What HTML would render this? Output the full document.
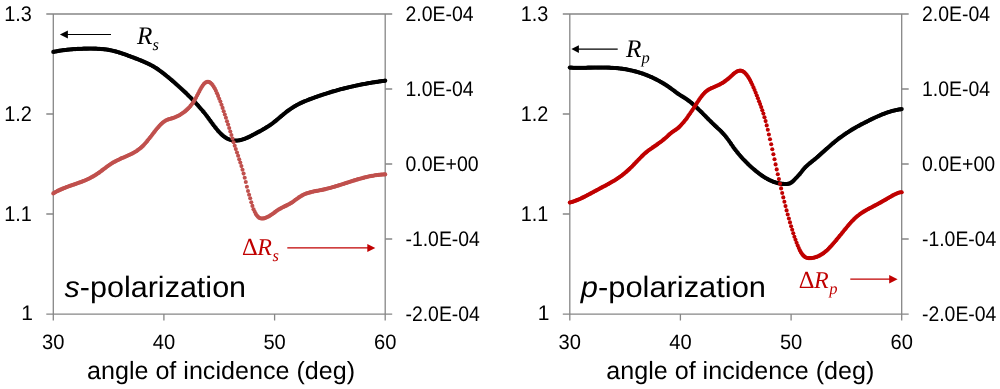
<!DOCTYPE html>
<html><head><meta charset="utf-8"><style>
html,body{margin:0;padding:0;background:#fff;}
body{width:1000px;height:389px;overflow:hidden;}
svg{display:block;will-change:transform;}
text{font-family:"Liberation Sans",sans-serif;text-rendering:geometricPrecision;}
.sf{font-family:"Liberation Serif",serif;}
</style></head><body>
<svg width="1000" height="389" viewBox="0 0 1000 389">
<g stroke="#868686" stroke-width="1.3" fill="none">
<path d="M46.3 14.0H392.2"/>
<path d="M46.3 314.1H392.2"/>
<path d="M53.3 14.0V320.6"/>
<path d="M385.2 14.0V320.6"/>
<path d="M46.3 114.0H53.3M46.3 214.0H53.3M385.2 89.0H392.2M385.2 164.0H392.2M385.2 239.0H392.2M163.9 314.1V320.6M274.6 314.1V320.6"/>
</g>
<g stroke="#868686" stroke-width="1.3" fill="none">
<path d="M562.8 14.0H908.7"/>
<path d="M562.8 314.1H908.7"/>
<path d="M569.8 14.0V320.6"/>
<path d="M901.7 14.0V320.6"/>
<path d="M562.8 114.0H569.8M562.8 214.0H569.8M901.7 89.0H908.7M901.7 164.0H908.7M901.7 239.0H908.7M680.4 314.1V320.6M791.1 314.1V320.6"/>
</g>
<g fill="#000"><circle cx="53.3" cy="51.9" r="2.1"/><circle cx="54.4" cy="51.7" r="2.1"/><circle cx="55.5" cy="51.5" r="2.1"/><circle cx="56.6" cy="51.3" r="2.1"/><circle cx="57.7" cy="51.1" r="2.1"/><circle cx="58.8" cy="50.9" r="2.1"/><circle cx="59.9" cy="50.7" r="2.1"/><circle cx="61.0" cy="50.5" r="2.1"/><circle cx="62.2" cy="50.4" r="2.1"/><circle cx="63.3" cy="50.2" r="2.1"/><circle cx="64.4" cy="50.1" r="2.1"/><circle cx="65.5" cy="50.0" r="2.1"/><circle cx="66.6" cy="49.8" r="2.1"/><circle cx="67.7" cy="49.7" r="2.1"/><circle cx="68.8" cy="49.6" r="2.1"/><circle cx="69.9" cy="49.5" r="2.1"/><circle cx="71.0" cy="49.4" r="2.1"/><circle cx="72.1" cy="49.3" r="2.1"/><circle cx="73.2" cy="49.2" r="2.1"/><circle cx="74.3" cy="49.1" r="2.1"/><circle cx="75.4" cy="49.1" r="2.1"/><circle cx="76.5" cy="49.0" r="2.1"/><circle cx="77.6" cy="48.9" r="2.1"/><circle cx="78.7" cy="48.9" r="2.1"/><circle cx="79.9" cy="48.8" r="2.1"/><circle cx="81.0" cy="48.8" r="2.1"/><circle cx="82.1" cy="48.8" r="2.1"/><circle cx="83.2" cy="48.7" r="2.1"/><circle cx="84.3" cy="48.7" r="2.1"/><circle cx="85.4" cy="48.7" r="2.1"/><circle cx="86.5" cy="48.7" r="2.1"/><circle cx="87.6" cy="48.7" r="2.1"/><circle cx="88.7" cy="48.6" r="2.1"/><circle cx="89.8" cy="48.6" r="2.1"/><circle cx="90.9" cy="48.6" r="2.1"/><circle cx="92.0" cy="48.6" r="2.1"/><circle cx="93.1" cy="48.7" r="2.1"/><circle cx="94.2" cy="48.7" r="2.1"/><circle cx="95.3" cy="48.7" r="2.1"/><circle cx="96.4" cy="48.7" r="2.1"/><circle cx="97.6" cy="48.8" r="2.1"/><circle cx="98.7" cy="48.8" r="2.1"/><circle cx="99.8" cy="48.9" r="2.1"/><circle cx="100.9" cy="49.0" r="2.1"/><circle cx="102.0" cy="49.1" r="2.1"/><circle cx="103.1" cy="49.2" r="2.1"/><circle cx="104.2" cy="49.3" r="2.1"/><circle cx="105.3" cy="49.4" r="2.1"/><circle cx="106.4" cy="49.5" r="2.1"/><circle cx="107.5" cy="49.7" r="2.1"/><circle cx="108.6" cy="49.9" r="2.1"/><circle cx="109.7" cy="50.1" r="2.1"/><circle cx="110.8" cy="50.3" r="2.1"/><circle cx="111.9" cy="50.5" r="2.1"/><circle cx="113.0" cy="50.8" r="2.1"/><circle cx="114.1" cy="51.1" r="2.1"/><circle cx="115.3" cy="51.4" r="2.1"/><circle cx="116.4" cy="51.7" r="2.1"/><circle cx="117.5" cy="52.0" r="2.1"/><circle cx="118.6" cy="52.3" r="2.1"/><circle cx="119.7" cy="52.7" r="2.1"/><circle cx="120.8" cy="53.0" r="2.1"/><circle cx="121.9" cy="53.4" r="2.1"/><circle cx="123.0" cy="53.8" r="2.1"/><circle cx="124.1" cy="54.1" r="2.1"/><circle cx="125.2" cy="54.5" r="2.1"/><circle cx="126.3" cy="54.9" r="2.1"/><circle cx="127.4" cy="55.3" r="2.1"/><circle cx="128.5" cy="55.8" r="2.1"/><circle cx="129.6" cy="56.2" r="2.1"/><circle cx="130.7" cy="56.6" r="2.1"/><circle cx="131.8" cy="57.0" r="2.1"/><circle cx="133.0" cy="57.4" r="2.1"/><circle cx="134.1" cy="57.8" r="2.1"/><circle cx="135.2" cy="58.3" r="2.1"/><circle cx="136.3" cy="58.7" r="2.1"/><circle cx="137.4" cy="59.1" r="2.1"/><circle cx="138.5" cy="59.5" r="2.1"/><circle cx="139.6" cy="60.0" r="2.1"/><circle cx="140.7" cy="60.4" r="2.1"/><circle cx="141.8" cy="60.9" r="2.1"/><circle cx="142.9" cy="61.3" r="2.1"/><circle cx="144.0" cy="61.8" r="2.1"/><circle cx="145.1" cy="62.3" r="2.1"/><circle cx="146.2" cy="62.8" r="2.1"/><circle cx="147.3" cy="63.3" r="2.1"/><circle cx="148.4" cy="63.8" r="2.1"/><circle cx="149.6" cy="64.4" r="2.1"/><circle cx="150.7" cy="65.0" r="2.1"/><circle cx="151.8" cy="65.6" r="2.1"/><circle cx="152.9" cy="66.2" r="2.1"/><circle cx="154.0" cy="66.8" r="2.1"/><circle cx="155.1" cy="67.5" r="2.1"/><circle cx="156.2" cy="68.2" r="2.1"/><circle cx="157.3" cy="68.9" r="2.1"/><circle cx="158.4" cy="69.7" r="2.1"/><circle cx="159.5" cy="70.5" r="2.1"/><circle cx="160.6" cy="71.3" r="2.1"/><circle cx="161.7" cy="72.1" r="2.1"/><circle cx="162.8" cy="72.9" r="2.1"/><circle cx="163.9" cy="73.8" r="2.1"/><circle cx="165.0" cy="74.7" r="2.1"/><circle cx="166.1" cy="75.6" r="2.1"/><circle cx="167.3" cy="76.5" r="2.1"/><circle cx="168.4" cy="77.4" r="2.1"/><circle cx="169.5" cy="78.3" r="2.1"/><circle cx="170.6" cy="79.3" r="2.1"/><circle cx="171.7" cy="80.2" r="2.1"/><circle cx="172.8" cy="81.2" r="2.1"/><circle cx="173.9" cy="82.1" r="2.1"/><circle cx="175.0" cy="83.1" r="2.1"/><circle cx="176.1" cy="84.1" r="2.1"/><circle cx="177.2" cy="85.0" r="2.1"/><circle cx="178.3" cy="86.0" r="2.1"/><circle cx="179.4" cy="87.0" r="2.1"/><circle cx="180.5" cy="88.0" r="2.1"/><circle cx="181.6" cy="89.1" r="2.1"/><circle cx="182.7" cy="90.1" r="2.1"/><circle cx="183.8" cy="91.1" r="2.1"/><circle cx="185.0" cy="92.2" r="2.1"/><circle cx="186.1" cy="93.2" r="2.1"/><circle cx="187.2" cy="94.3" r="2.1"/><circle cx="188.3" cy="95.4" r="2.1"/><circle cx="189.4" cy="96.5" r="2.1"/><circle cx="190.5" cy="97.6" r="2.1"/><circle cx="191.6" cy="98.7" r="2.1"/><circle cx="192.7" cy="99.8" r="2.1"/><circle cx="193.8" cy="101.0" r="2.1"/><circle cx="194.9" cy="102.1" r="2.1"/><circle cx="196.0" cy="103.3" r="2.1"/><circle cx="197.1" cy="104.5" r="2.1"/><circle cx="198.2" cy="105.7" r="2.1"/><circle cx="199.3" cy="107.0" r="2.1"/><circle cx="200.4" cy="108.3" r="2.1"/><circle cx="201.5" cy="109.5" r="2.1"/><circle cx="202.7" cy="110.9" r="2.1"/><circle cx="203.8" cy="112.2" r="2.1"/><circle cx="204.9" cy="113.6" r="2.1"/><circle cx="206.0" cy="115.0" r="2.1"/><circle cx="207.1" cy="116.4" r="2.1"/><circle cx="208.2" cy="117.9" r="2.1"/><circle cx="209.3" cy="119.4" r="2.1"/><circle cx="210.4" cy="120.9" r="2.1"/><circle cx="211.5" cy="122.4" r="2.1"/><circle cx="212.6" cy="123.9" r="2.1"/><circle cx="213.7" cy="125.4" r="2.1"/><circle cx="214.8" cy="126.8" r="2.1"/><circle cx="215.9" cy="128.2" r="2.1"/><circle cx="217.0" cy="129.6" r="2.1"/><circle cx="218.1" cy="130.9" r="2.1"/><circle cx="219.2" cy="132.1" r="2.1"/><circle cx="220.4" cy="133.3" r="2.1"/><circle cx="221.5" cy="134.4" r="2.1"/><circle cx="222.6" cy="135.4" r="2.1"/><circle cx="223.7" cy="136.3" r="2.1"/><circle cx="224.8" cy="137.1" r="2.1"/><circle cx="225.9" cy="137.8" r="2.1"/><circle cx="227.0" cy="138.5" r="2.1"/><circle cx="228.1" cy="139.0" r="2.1"/><circle cx="229.2" cy="139.5" r="2.1"/><circle cx="230.3" cy="139.8" r="2.1"/><circle cx="231.4" cy="140.1" r="2.1"/><circle cx="232.5" cy="140.4" r="2.1"/><circle cx="233.6" cy="140.5" r="2.1"/><circle cx="234.7" cy="140.6" r="2.1"/><circle cx="235.8" cy="140.6" r="2.1"/><circle cx="237.0" cy="140.6" r="2.1"/><circle cx="238.1" cy="140.5" r="2.1"/><circle cx="239.2" cy="140.3" r="2.1"/><circle cx="240.3" cy="140.1" r="2.1"/><circle cx="241.4" cy="139.8" r="2.1"/><circle cx="242.5" cy="139.5" r="2.1"/><circle cx="243.6" cy="139.2" r="2.1"/><circle cx="244.7" cy="138.8" r="2.1"/><circle cx="245.8" cy="138.3" r="2.1"/><circle cx="246.9" cy="137.9" r="2.1"/><circle cx="248.0" cy="137.4" r="2.1"/><circle cx="249.1" cy="136.9" r="2.1"/><circle cx="250.2" cy="136.3" r="2.1"/><circle cx="251.3" cy="135.8" r="2.1"/><circle cx="252.4" cy="135.2" r="2.1"/><circle cx="253.5" cy="134.6" r="2.1"/><circle cx="254.7" cy="134.0" r="2.1"/><circle cx="255.8" cy="133.4" r="2.1"/><circle cx="256.9" cy="132.8" r="2.1"/><circle cx="258.0" cy="132.2" r="2.1"/><circle cx="259.1" cy="131.7" r="2.1"/><circle cx="260.2" cy="131.1" r="2.1"/><circle cx="261.3" cy="130.5" r="2.1"/><circle cx="262.4" cy="129.8" r="2.1"/><circle cx="263.5" cy="129.2" r="2.1"/><circle cx="264.6" cy="128.6" r="2.1"/><circle cx="265.7" cy="127.9" r="2.1"/><circle cx="266.8" cy="127.2" r="2.1"/><circle cx="267.9" cy="126.5" r="2.1"/><circle cx="269.0" cy="125.8" r="2.1"/><circle cx="270.1" cy="125.1" r="2.1"/><circle cx="271.2" cy="124.3" r="2.1"/><circle cx="272.4" cy="123.5" r="2.1"/><circle cx="273.5" cy="122.6" r="2.1"/><circle cx="274.6" cy="121.7" r="2.1"/><circle cx="275.7" cy="120.9" r="2.1"/><circle cx="276.8" cy="119.9" r="2.1"/><circle cx="277.9" cy="119.0" r="2.1"/><circle cx="279.0" cy="118.1" r="2.1"/><circle cx="280.1" cy="117.2" r="2.1"/><circle cx="281.2" cy="116.2" r="2.1"/><circle cx="282.3" cy="115.3" r="2.1"/><circle cx="283.4" cy="114.4" r="2.1"/><circle cx="284.5" cy="113.5" r="2.1"/><circle cx="285.6" cy="112.6" r="2.1"/><circle cx="286.7" cy="111.7" r="2.1"/><circle cx="287.8" cy="110.9" r="2.1"/><circle cx="288.9" cy="110.1" r="2.1"/><circle cx="290.1" cy="109.3" r="2.1"/><circle cx="291.2" cy="108.5" r="2.1"/><circle cx="292.3" cy="107.8" r="2.1"/><circle cx="293.4" cy="107.1" r="2.1"/><circle cx="294.5" cy="106.4" r="2.1"/><circle cx="295.6" cy="105.8" r="2.1"/><circle cx="296.7" cy="105.1" r="2.1"/><circle cx="297.8" cy="104.6" r="2.1"/><circle cx="298.9" cy="104.0" r="2.1"/><circle cx="300.0" cy="103.4" r="2.1"/><circle cx="301.1" cy="102.9" r="2.1"/><circle cx="302.2" cy="102.4" r="2.1"/><circle cx="303.3" cy="101.9" r="2.1"/><circle cx="304.4" cy="101.4" r="2.1"/><circle cx="305.5" cy="101.0" r="2.1"/><circle cx="306.7" cy="100.5" r="2.1"/><circle cx="307.8" cy="100.1" r="2.1"/><circle cx="308.9" cy="99.7" r="2.1"/><circle cx="310.0" cy="99.2" r="2.1"/><circle cx="311.1" cy="98.8" r="2.1"/><circle cx="312.2" cy="98.4" r="2.1"/><circle cx="313.3" cy="98.0" r="2.1"/><circle cx="314.4" cy="97.6" r="2.1"/><circle cx="315.5" cy="97.2" r="2.1"/><circle cx="316.6" cy="96.8" r="2.1"/><circle cx="317.7" cy="96.4" r="2.1"/><circle cx="318.8" cy="96.0" r="2.1"/><circle cx="319.9" cy="95.6" r="2.1"/><circle cx="321.0" cy="95.3" r="2.1"/><circle cx="322.1" cy="94.9" r="2.1"/><circle cx="323.2" cy="94.5" r="2.1"/><circle cx="324.4" cy="94.2" r="2.1"/><circle cx="325.5" cy="93.8" r="2.1"/><circle cx="326.6" cy="93.5" r="2.1"/><circle cx="327.7" cy="93.1" r="2.1"/><circle cx="328.8" cy="92.8" r="2.1"/><circle cx="329.9" cy="92.4" r="2.1"/><circle cx="331.0" cy="92.1" r="2.1"/><circle cx="332.1" cy="91.7" r="2.1"/><circle cx="333.2" cy="91.4" r="2.1"/><circle cx="334.3" cy="91.1" r="2.1"/><circle cx="335.4" cy="90.8" r="2.1"/><circle cx="336.5" cy="90.5" r="2.1"/><circle cx="337.6" cy="90.2" r="2.1"/><circle cx="338.7" cy="89.8" r="2.1"/><circle cx="339.8" cy="89.5" r="2.1"/><circle cx="340.9" cy="89.2" r="2.1"/><circle cx="342.1" cy="89.0" r="2.1"/><circle cx="343.2" cy="88.7" r="2.1"/><circle cx="344.3" cy="88.4" r="2.1"/><circle cx="345.4" cy="88.1" r="2.1"/><circle cx="346.5" cy="87.8" r="2.1"/><circle cx="347.6" cy="87.6" r="2.1"/><circle cx="348.7" cy="87.3" r="2.1"/><circle cx="349.8" cy="87.0" r="2.1"/><circle cx="350.9" cy="86.8" r="2.1"/><circle cx="352.0" cy="86.5" r="2.1"/><circle cx="353.1" cy="86.3" r="2.1"/><circle cx="354.2" cy="86.0" r="2.1"/><circle cx="355.3" cy="85.8" r="2.1"/><circle cx="356.4" cy="85.5" r="2.1"/><circle cx="357.5" cy="85.3" r="2.1"/><circle cx="358.6" cy="85.1" r="2.1"/><circle cx="359.8" cy="84.8" r="2.1"/><circle cx="360.9" cy="84.6" r="2.1"/><circle cx="362.0" cy="84.4" r="2.1"/><circle cx="363.1" cy="84.2" r="2.1"/><circle cx="364.2" cy="84.0" r="2.1"/><circle cx="365.3" cy="83.8" r="2.1"/><circle cx="366.4" cy="83.6" r="2.1"/><circle cx="367.5" cy="83.4" r="2.1"/><circle cx="368.6" cy="83.2" r="2.1"/><circle cx="369.7" cy="83.0" r="2.1"/><circle cx="370.8" cy="82.8" r="2.1"/><circle cx="371.9" cy="82.6" r="2.1"/><circle cx="373.0" cy="82.4" r="2.1"/><circle cx="374.1" cy="82.3" r="2.1"/><circle cx="375.2" cy="82.1" r="2.1"/><circle cx="376.3" cy="81.9" r="2.1"/><circle cx="377.5" cy="81.8" r="2.1"/><circle cx="378.6" cy="81.6" r="2.1"/><circle cx="379.7" cy="81.4" r="2.1"/><circle cx="380.8" cy="81.3" r="2.1"/><circle cx="381.9" cy="81.1" r="2.1"/><circle cx="383.0" cy="81.0" r="2.1"/><circle cx="384.1" cy="80.9" r="2.1"/><circle cx="385.2" cy="80.7" r="2.1"/></g>
<g fill="#C0504D"><circle cx="53.3" cy="193.4" r="2.05"/><circle cx="54.4" cy="192.7" r="2.05"/><circle cx="55.5" cy="192.1" r="2.05"/><circle cx="56.6" cy="191.5" r="2.05"/><circle cx="57.7" cy="190.9" r="2.05"/><circle cx="58.8" cy="190.4" r="2.05"/><circle cx="59.9" cy="189.9" r="2.05"/><circle cx="61.0" cy="189.4" r="2.05"/><circle cx="62.2" cy="188.9" r="2.05"/><circle cx="63.3" cy="188.4" r="2.05"/><circle cx="64.4" cy="188.0" r="2.05"/><circle cx="65.5" cy="187.6" r="2.05"/><circle cx="66.6" cy="187.1" r="2.05"/><circle cx="67.7" cy="186.7" r="2.05"/><circle cx="68.8" cy="186.3" r="2.05"/><circle cx="69.9" cy="185.9" r="2.05"/><circle cx="71.0" cy="185.5" r="2.05"/><circle cx="72.1" cy="185.1" r="2.05"/><circle cx="73.2" cy="184.8" r="2.05"/><circle cx="74.3" cy="184.4" r="2.05"/><circle cx="75.4" cy="184.0" r="2.05"/><circle cx="76.5" cy="183.6" r="2.05"/><circle cx="77.6" cy="183.2" r="2.05"/><circle cx="78.7" cy="182.8" r="2.05"/><circle cx="79.9" cy="182.4" r="2.05"/><circle cx="81.0" cy="182.0" r="2.05"/><circle cx="82.1" cy="181.6" r="2.05"/><circle cx="83.2" cy="181.1" r="2.05"/><circle cx="84.3" cy="180.7" r="2.05"/><circle cx="85.4" cy="180.2" r="2.05"/><circle cx="86.5" cy="179.7" r="2.05"/><circle cx="87.6" cy="179.2" r="2.05"/><circle cx="88.7" cy="178.7" r="2.05"/><circle cx="89.8" cy="178.2" r="2.05"/><circle cx="90.9" cy="177.6" r="2.05"/><circle cx="92.0" cy="177.0" r="2.05"/><circle cx="93.1" cy="176.4" r="2.05"/><circle cx="94.2" cy="175.7" r="2.05"/><circle cx="95.3" cy="175.1" r="2.05"/><circle cx="96.4" cy="174.4" r="2.05"/><circle cx="97.6" cy="173.6" r="2.05"/><circle cx="98.7" cy="172.9" r="2.05"/><circle cx="99.8" cy="172.1" r="2.05"/><circle cx="100.9" cy="171.3" r="2.05"/><circle cx="102.0" cy="170.4" r="2.05"/><circle cx="103.1" cy="169.6" r="2.05"/><circle cx="104.2" cy="168.8" r="2.05"/><circle cx="105.3" cy="168.0" r="2.05"/><circle cx="106.4" cy="167.1" r="2.05"/><circle cx="107.5" cy="166.3" r="2.05"/><circle cx="108.6" cy="165.5" r="2.05"/><circle cx="109.7" cy="164.8" r="2.05"/><circle cx="110.8" cy="164.0" r="2.05"/><circle cx="111.9" cy="163.3" r="2.05"/><circle cx="113.0" cy="162.6" r="2.05"/><circle cx="114.1" cy="162.0" r="2.05"/><circle cx="115.3" cy="161.4" r="2.05"/><circle cx="116.4" cy="160.8" r="2.05"/><circle cx="117.5" cy="160.2" r="2.05"/><circle cx="118.6" cy="159.7" r="2.05"/><circle cx="119.7" cy="159.2" r="2.05"/><circle cx="120.8" cy="158.6" r="2.05"/><circle cx="121.9" cy="158.1" r="2.05"/><circle cx="123.0" cy="157.7" r="2.05"/><circle cx="124.1" cy="157.2" r="2.05"/><circle cx="125.2" cy="156.7" r="2.05"/><circle cx="126.3" cy="156.2" r="2.05"/><circle cx="127.4" cy="155.7" r="2.05"/><circle cx="128.5" cy="155.2" r="2.05"/><circle cx="129.6" cy="154.7" r="2.05"/><circle cx="130.7" cy="154.2" r="2.05"/><circle cx="131.8" cy="153.7" r="2.05"/><circle cx="133.0" cy="153.1" r="2.05"/><circle cx="134.1" cy="152.5" r="2.05"/><circle cx="135.2" cy="151.8" r="2.05"/><circle cx="136.3" cy="151.2" r="2.05"/><circle cx="137.4" cy="150.4" r="2.05"/><circle cx="138.5" cy="149.6" r="2.05"/><circle cx="139.6" cy="148.8" r="2.05"/><circle cx="140.7" cy="147.9" r="2.05"/><circle cx="141.8" cy="146.9" r="2.05"/><circle cx="142.9" cy="145.9" r="2.05"/><circle cx="144.0" cy="144.7" r="2.05"/><circle cx="145.1" cy="143.5" r="2.05"/><circle cx="146.2" cy="142.2" r="2.05"/><circle cx="147.3" cy="140.9" r="2.05"/><circle cx="148.4" cy="139.5" r="2.05"/><circle cx="149.6" cy="138.1" r="2.05"/><circle cx="150.7" cy="136.7" r="2.05"/><circle cx="151.8" cy="135.2" r="2.05"/><circle cx="152.9" cy="133.8" r="2.05"/><circle cx="154.0" cy="132.4" r="2.05"/><circle cx="155.1" cy="131.0" r="2.05"/><circle cx="156.2" cy="129.6" r="2.05"/><circle cx="157.3" cy="128.3" r="2.05"/><circle cx="158.4" cy="127.0" r="2.05"/><circle cx="159.5" cy="125.8" r="2.05"/><circle cx="160.6" cy="124.6" r="2.05"/><circle cx="161.7" cy="123.6" r="2.05"/><circle cx="162.8" cy="122.6" r="2.05"/><circle cx="163.9" cy="121.7" r="2.05"/><circle cx="165.0" cy="121.0" r="2.05"/><circle cx="166.1" cy="120.3" r="2.05"/><circle cx="167.3" cy="119.8" r="2.05"/><circle cx="168.4" cy="119.4" r="2.05"/><circle cx="169.5" cy="119.0" r="2.05"/><circle cx="170.6" cy="118.7" r="2.05"/><circle cx="171.7" cy="118.4" r="2.05"/><circle cx="172.8" cy="118.1" r="2.05"/><circle cx="173.9" cy="117.7" r="2.05"/><circle cx="175.0" cy="117.3" r="2.05"/><circle cx="176.1" cy="116.8" r="2.05"/><circle cx="177.2" cy="116.3" r="2.05"/><circle cx="178.3" cy="115.8" r="2.05"/><circle cx="179.4" cy="115.2" r="2.05"/><circle cx="180.5" cy="114.5" r="2.05"/><circle cx="181.6" cy="113.8" r="2.05"/><circle cx="182.7" cy="113.0" r="2.05"/><circle cx="183.8" cy="112.2" r="2.05"/><circle cx="185.0" cy="111.4" r="2.05"/><circle cx="186.1" cy="110.4" r="2.05"/><circle cx="187.2" cy="109.4" r="2.05"/><circle cx="188.3" cy="108.4" r="2.05"/><circle cx="189.4" cy="107.2" r="2.05"/><circle cx="190.5" cy="105.9" r="2.05"/><circle cx="191.6" cy="104.6" r="2.05"/><circle cx="192.7" cy="103.1" r="2.05"/><circle cx="193.8" cy="101.4" r="2.05"/><circle cx="194.9" cy="99.6" r="2.05"/><circle cx="196.0" cy="97.7" r="2.05"/><circle cx="197.1" cy="95.6" r="2.05"/><circle cx="198.2" cy="93.5" r="2.05"/><circle cx="199.3" cy="91.4" r="2.05"/><circle cx="200.4" cy="89.3" r="2.05"/><circle cx="201.5" cy="87.3" r="2.05"/><circle cx="202.7" cy="85.6" r="2.05"/><circle cx="203.8" cy="84.1" r="2.05"/><circle cx="204.9" cy="83.0" r="2.05"/><circle cx="206.0" cy="82.2" r="2.05"/><circle cx="207.1" cy="81.8" r="2.05"/><circle cx="208.2" cy="81.7" r="2.05"/><circle cx="209.3" cy="82.1" r="2.05"/><circle cx="210.4" cy="82.7" r="2.05"/><circle cx="211.5" cy="83.7" r="2.05"/><circle cx="212.6" cy="85.1" r="2.05"/><circle cx="213.7" cy="86.7" r="2.05"/><circle cx="214.8" cy="88.6" r="2.05"/><circle cx="215.9" cy="90.8" r="2.05"/><circle cx="217.0" cy="93.2" r="2.05"/><circle cx="218.1" cy="95.9" r="2.05"/><circle cx="219.2" cy="98.7" r="2.05"/><circle cx="220.4" cy="101.6" r="2.05"/><circle cx="221.5" cy="104.7" r="2.05"/><circle cx="222.6" cy="107.9" r="2.05"/><circle cx="223.7" cy="111.2" r="2.05"/><circle cx="224.8" cy="114.5" r="2.05"/><circle cx="225.9" cy="117.8" r="2.05"/><circle cx="227.0" cy="121.2" r="2.05"/><circle cx="228.1" cy="124.5" r="2.05"/><circle cx="229.2" cy="128.0" r="2.05"/><circle cx="230.3" cy="131.5" r="2.05"/><circle cx="231.4" cy="135.0" r="2.05"/><circle cx="232.5" cy="138.6" r="2.05"/><circle cx="233.6" cy="142.2" r="2.05"/><circle cx="234.7" cy="145.7" r="2.05"/><circle cx="235.8" cy="149.1" r="2.05"/><circle cx="237.0" cy="152.5" r="2.05"/><circle cx="238.1" cy="155.8" r="2.05"/><circle cx="239.2" cy="159.2" r="2.05"/><circle cx="240.3" cy="162.6" r="2.05"/><circle cx="241.4" cy="166.1" r="2.05"/><circle cx="242.5" cy="169.8" r="2.05"/><circle cx="243.6" cy="173.6" r="2.05"/><circle cx="244.7" cy="177.7" r="2.05"/><circle cx="245.8" cy="182.0" r="2.05"/><circle cx="246.9" cy="186.7" r="2.05"/><circle cx="248.0" cy="191.0" r="2.05"/><circle cx="249.1" cy="194.8" r="2.05"/><circle cx="250.2" cy="198.3" r="2.05"/><circle cx="251.3" cy="202.2" r="2.05"/><circle cx="252.4" cy="205.9" r="2.05"/><circle cx="253.5" cy="209.2" r="2.05"/><circle cx="254.7" cy="211.8" r="2.05"/><circle cx="255.8" cy="213.9" r="2.05"/><circle cx="256.9" cy="215.6" r="2.05"/><circle cx="258.0" cy="216.8" r="2.05"/><circle cx="259.1" cy="217.7" r="2.05"/><circle cx="260.2" cy="218.2" r="2.05"/><circle cx="261.3" cy="218.5" r="2.05"/><circle cx="262.4" cy="218.5" r="2.05"/><circle cx="263.5" cy="218.4" r="2.05"/><circle cx="264.6" cy="218.2" r="2.05"/><circle cx="265.7" cy="217.8" r="2.05"/><circle cx="266.8" cy="217.3" r="2.05"/><circle cx="267.9" cy="216.8" r="2.05"/><circle cx="269.0" cy="216.2" r="2.05"/><circle cx="270.1" cy="215.5" r="2.05"/><circle cx="271.2" cy="214.7" r="2.05"/><circle cx="272.4" cy="214.0" r="2.05"/><circle cx="273.5" cy="213.2" r="2.05"/><circle cx="274.6" cy="212.4" r="2.05"/><circle cx="275.7" cy="211.6" r="2.05"/><circle cx="276.8" cy="210.8" r="2.05"/><circle cx="277.9" cy="210.0" r="2.05"/><circle cx="279.0" cy="209.3" r="2.05"/><circle cx="280.1" cy="208.7" r="2.05"/><circle cx="281.2" cy="208.1" r="2.05"/><circle cx="282.3" cy="207.5" r="2.05"/><circle cx="283.4" cy="207.0" r="2.05"/><circle cx="284.5" cy="206.4" r="2.05"/><circle cx="285.6" cy="205.9" r="2.05"/><circle cx="286.7" cy="205.4" r="2.05"/><circle cx="287.8" cy="204.8" r="2.05"/><circle cx="288.9" cy="204.2" r="2.05"/><circle cx="290.1" cy="203.6" r="2.05"/><circle cx="291.2" cy="202.9" r="2.05"/><circle cx="292.3" cy="202.2" r="2.05"/><circle cx="293.4" cy="201.5" r="2.05"/><circle cx="294.5" cy="200.6" r="2.05"/><circle cx="295.6" cy="199.8" r="2.05"/><circle cx="296.7" cy="199.0" r="2.05"/><circle cx="297.8" cy="198.2" r="2.05"/><circle cx="298.9" cy="197.4" r="2.05"/><circle cx="300.0" cy="196.7" r="2.05"/><circle cx="301.1" cy="196.0" r="2.05"/><circle cx="302.2" cy="195.4" r="2.05"/><circle cx="303.3" cy="194.8" r="2.05"/><circle cx="304.4" cy="194.3" r="2.05"/><circle cx="305.5" cy="193.8" r="2.05"/><circle cx="306.7" cy="193.4" r="2.05"/><circle cx="307.8" cy="193.0" r="2.05"/><circle cx="308.9" cy="192.7" r="2.05"/><circle cx="310.0" cy="192.4" r="2.05"/><circle cx="311.1" cy="192.1" r="2.05"/><circle cx="312.2" cy="191.8" r="2.05"/><circle cx="313.3" cy="191.6" r="2.05"/><circle cx="314.4" cy="191.3" r="2.05"/><circle cx="315.5" cy="191.1" r="2.05"/><circle cx="316.6" cy="190.9" r="2.05"/><circle cx="317.7" cy="190.7" r="2.05"/><circle cx="318.8" cy="190.5" r="2.05"/><circle cx="319.9" cy="190.3" r="2.05"/><circle cx="321.0" cy="190.1" r="2.05"/><circle cx="322.1" cy="189.9" r="2.05"/><circle cx="323.2" cy="189.6" r="2.05"/><circle cx="324.4" cy="189.4" r="2.05"/><circle cx="325.5" cy="189.1" r="2.05"/><circle cx="326.6" cy="188.8" r="2.05"/><circle cx="327.7" cy="188.5" r="2.05"/><circle cx="328.8" cy="188.3" r="2.05"/><circle cx="329.9" cy="188.0" r="2.05"/><circle cx="331.0" cy="187.7" r="2.05"/><circle cx="332.1" cy="187.3" r="2.05"/><circle cx="333.2" cy="187.0" r="2.05"/><circle cx="334.3" cy="186.7" r="2.05"/><circle cx="335.4" cy="186.4" r="2.05"/><circle cx="336.5" cy="186.0" r="2.05"/><circle cx="337.6" cy="185.7" r="2.05"/><circle cx="338.7" cy="185.4" r="2.05"/><circle cx="339.8" cy="185.0" r="2.05"/><circle cx="340.9" cy="184.7" r="2.05"/><circle cx="342.1" cy="184.3" r="2.05"/><circle cx="343.2" cy="184.0" r="2.05"/><circle cx="344.3" cy="183.6" r="2.05"/><circle cx="345.4" cy="183.2" r="2.05"/><circle cx="346.5" cy="182.9" r="2.05"/><circle cx="347.6" cy="182.5" r="2.05"/><circle cx="348.7" cy="182.2" r="2.05"/><circle cx="349.8" cy="181.8" r="2.05"/><circle cx="350.9" cy="181.5" r="2.05"/><circle cx="352.0" cy="181.1" r="2.05"/><circle cx="353.1" cy="180.8" r="2.05"/><circle cx="354.2" cy="180.4" r="2.05"/><circle cx="355.3" cy="180.1" r="2.05"/><circle cx="356.4" cy="179.8" r="2.05"/><circle cx="357.5" cy="179.4" r="2.05"/><circle cx="358.6" cy="179.1" r="2.05"/><circle cx="359.8" cy="178.8" r="2.05"/><circle cx="360.9" cy="178.5" r="2.05"/><circle cx="362.0" cy="178.2" r="2.05"/><circle cx="363.1" cy="177.9" r="2.05"/><circle cx="364.2" cy="177.6" r="2.05"/><circle cx="365.3" cy="177.3" r="2.05"/><circle cx="366.4" cy="177.1" r="2.05"/><circle cx="367.5" cy="176.8" r="2.05"/><circle cx="368.6" cy="176.5" r="2.05"/><circle cx="369.7" cy="176.3" r="2.05"/><circle cx="370.8" cy="176.1" r="2.05"/><circle cx="371.9" cy="175.9" r="2.05"/><circle cx="373.0" cy="175.7" r="2.05"/><circle cx="374.1" cy="175.5" r="2.05"/><circle cx="375.2" cy="175.3" r="2.05"/><circle cx="376.3" cy="175.1" r="2.05"/><circle cx="377.5" cy="175.0" r="2.05"/><circle cx="378.6" cy="174.9" r="2.05"/><circle cx="379.7" cy="174.7" r="2.05"/><circle cx="380.8" cy="174.6" r="2.05"/><circle cx="381.9" cy="174.6" r="2.05"/><circle cx="383.0" cy="174.5" r="2.05"/><circle cx="384.1" cy="174.4" r="2.05"/><circle cx="385.2" cy="174.4" r="2.05"/></g>
<g fill="#000"><circle cx="569.8" cy="67.6" r="2.1"/><circle cx="570.9" cy="67.7" r="2.1"/><circle cx="572.0" cy="67.7" r="2.1"/><circle cx="573.1" cy="67.8" r="2.1"/><circle cx="574.2" cy="67.8" r="2.1"/><circle cx="575.3" cy="67.8" r="2.1"/><circle cx="576.4" cy="67.8" r="2.1"/><circle cx="577.5" cy="67.8" r="2.1"/><circle cx="578.7" cy="67.8" r="2.1"/><circle cx="579.8" cy="67.8" r="2.1"/><circle cx="580.9" cy="67.8" r="2.1"/><circle cx="582.0" cy="67.8" r="2.1"/><circle cx="583.1" cy="67.8" r="2.1"/><circle cx="584.2" cy="67.8" r="2.1"/><circle cx="585.3" cy="67.8" r="2.1"/><circle cx="586.4" cy="67.8" r="2.1"/><circle cx="587.5" cy="67.7" r="2.1"/><circle cx="588.6" cy="67.7" r="2.1"/><circle cx="589.7" cy="67.7" r="2.1"/><circle cx="590.8" cy="67.7" r="2.1"/><circle cx="591.9" cy="67.7" r="2.1"/><circle cx="593.0" cy="67.6" r="2.1"/><circle cx="594.1" cy="67.6" r="2.1"/><circle cx="595.2" cy="67.6" r="2.1"/><circle cx="596.4" cy="67.6" r="2.1"/><circle cx="597.5" cy="67.6" r="2.1"/><circle cx="598.6" cy="67.6" r="2.1"/><circle cx="599.7" cy="67.6" r="2.1"/><circle cx="600.8" cy="67.6" r="2.1"/><circle cx="601.9" cy="67.6" r="2.1"/><circle cx="603.0" cy="67.6" r="2.1"/><circle cx="604.1" cy="67.6" r="2.1"/><circle cx="605.2" cy="67.6" r="2.1"/><circle cx="606.3" cy="67.6" r="2.1"/><circle cx="607.4" cy="67.6" r="2.1"/><circle cx="608.5" cy="67.7" r="2.1"/><circle cx="609.6" cy="67.7" r="2.1"/><circle cx="610.7" cy="67.8" r="2.1"/><circle cx="611.8" cy="67.8" r="2.1"/><circle cx="612.9" cy="67.9" r="2.1"/><circle cx="614.1" cy="68.0" r="2.1"/><circle cx="615.2" cy="68.0" r="2.1"/><circle cx="616.3" cy="68.1" r="2.1"/><circle cx="617.4" cy="68.2" r="2.1"/><circle cx="618.5" cy="68.3" r="2.1"/><circle cx="619.6" cy="68.5" r="2.1"/><circle cx="620.7" cy="68.6" r="2.1"/><circle cx="621.8" cy="68.7" r="2.1"/><circle cx="622.9" cy="68.9" r="2.1"/><circle cx="624.0" cy="69.1" r="2.1"/><circle cx="625.1" cy="69.2" r="2.1"/><circle cx="626.2" cy="69.4" r="2.1"/><circle cx="627.3" cy="69.6" r="2.1"/><circle cx="628.4" cy="69.8" r="2.1"/><circle cx="629.5" cy="70.1" r="2.1"/><circle cx="630.6" cy="70.3" r="2.1"/><circle cx="631.8" cy="70.5" r="2.1"/><circle cx="632.9" cy="70.8" r="2.1"/><circle cx="634.0" cy="71.1" r="2.1"/><circle cx="635.1" cy="71.4" r="2.1"/><circle cx="636.2" cy="71.7" r="2.1"/><circle cx="637.3" cy="72.0" r="2.1"/><circle cx="638.4" cy="72.3" r="2.1"/><circle cx="639.5" cy="72.6" r="2.1"/><circle cx="640.6" cy="73.0" r="2.1"/><circle cx="641.7" cy="73.3" r="2.1"/><circle cx="642.8" cy="73.7" r="2.1"/><circle cx="643.9" cy="74.1" r="2.1"/><circle cx="645.0" cy="74.5" r="2.1"/><circle cx="646.1" cy="74.9" r="2.1"/><circle cx="647.2" cy="75.4" r="2.1"/><circle cx="648.3" cy="75.8" r="2.1"/><circle cx="649.5" cy="76.3" r="2.1"/><circle cx="650.6" cy="76.8" r="2.1"/><circle cx="651.7" cy="77.2" r="2.1"/><circle cx="652.8" cy="77.8" r="2.1"/><circle cx="653.9" cy="78.3" r="2.1"/><circle cx="655.0" cy="78.8" r="2.1"/><circle cx="656.1" cy="79.4" r="2.1"/><circle cx="657.2" cy="80.0" r="2.1"/><circle cx="658.3" cy="80.5" r="2.1"/><circle cx="659.4" cy="81.2" r="2.1"/><circle cx="660.5" cy="81.8" r="2.1"/><circle cx="661.6" cy="82.4" r="2.1"/><circle cx="662.7" cy="83.1" r="2.1"/><circle cx="663.8" cy="83.7" r="2.1"/><circle cx="664.9" cy="84.4" r="2.1"/><circle cx="666.1" cy="85.1" r="2.1"/><circle cx="667.2" cy="85.9" r="2.1"/><circle cx="668.3" cy="86.6" r="2.1"/><circle cx="669.4" cy="87.4" r="2.1"/><circle cx="670.5" cy="88.2" r="2.1"/><circle cx="671.6" cy="89.0" r="2.1"/><circle cx="672.7" cy="89.8" r="2.1"/><circle cx="673.8" cy="90.6" r="2.1"/><circle cx="674.9" cy="91.4" r="2.1"/><circle cx="676.0" cy="92.3" r="2.1"/><circle cx="677.1" cy="93.1" r="2.1"/><circle cx="678.2" cy="93.9" r="2.1"/><circle cx="679.3" cy="94.6" r="2.1"/><circle cx="680.4" cy="95.3" r="2.1"/><circle cx="681.5" cy="96.0" r="2.1"/><circle cx="682.6" cy="96.7" r="2.1"/><circle cx="683.8" cy="97.4" r="2.1"/><circle cx="684.9" cy="98.1" r="2.1"/><circle cx="686.0" cy="98.8" r="2.1"/><circle cx="687.1" cy="99.6" r="2.1"/><circle cx="688.2" cy="100.4" r="2.1"/><circle cx="689.3" cy="101.2" r="2.1"/><circle cx="690.4" cy="102.0" r="2.1"/><circle cx="691.5" cy="102.9" r="2.1"/><circle cx="692.6" cy="103.9" r="2.1"/><circle cx="693.7" cy="104.8" r="2.1"/><circle cx="694.8" cy="105.8" r="2.1"/><circle cx="695.9" cy="106.8" r="2.1"/><circle cx="697.0" cy="107.9" r="2.1"/><circle cx="698.1" cy="108.9" r="2.1"/><circle cx="699.2" cy="110.0" r="2.1"/><circle cx="700.3" cy="111.1" r="2.1"/><circle cx="701.5" cy="112.2" r="2.1"/><circle cx="702.6" cy="113.3" r="2.1"/><circle cx="703.7" cy="114.5" r="2.1"/><circle cx="704.8" cy="115.6" r="2.1"/><circle cx="705.9" cy="116.7" r="2.1"/><circle cx="707.0" cy="117.8" r="2.1"/><circle cx="708.1" cy="118.9" r="2.1"/><circle cx="709.2" cy="120.0" r="2.1"/><circle cx="710.3" cy="121.1" r="2.1"/><circle cx="711.4" cy="122.2" r="2.1"/><circle cx="712.5" cy="123.3" r="2.1"/><circle cx="713.6" cy="124.3" r="2.1"/><circle cx="714.7" cy="125.4" r="2.1"/><circle cx="715.8" cy="126.4" r="2.1"/><circle cx="716.9" cy="127.4" r="2.1"/><circle cx="718.0" cy="128.5" r="2.1"/><circle cx="719.2" cy="129.5" r="2.1"/><circle cx="720.3" cy="130.6" r="2.1"/><circle cx="721.4" cy="131.7" r="2.1"/><circle cx="722.5" cy="132.9" r="2.1"/><circle cx="723.6" cy="134.1" r="2.1"/><circle cx="724.7" cy="135.3" r="2.1"/><circle cx="725.8" cy="136.7" r="2.1"/><circle cx="726.9" cy="138.0" r="2.1"/><circle cx="728.0" cy="139.5" r="2.1"/><circle cx="729.1" cy="141.0" r="2.1"/><circle cx="730.2" cy="142.6" r="2.1"/><circle cx="731.3" cy="144.2" r="2.1"/><circle cx="732.4" cy="145.8" r="2.1"/><circle cx="733.5" cy="147.4" r="2.1"/><circle cx="734.6" cy="148.9" r="2.1"/><circle cx="735.8" cy="150.4" r="2.1"/><circle cx="736.9" cy="151.8" r="2.1"/><circle cx="738.0" cy="153.2" r="2.1"/><circle cx="739.1" cy="154.5" r="2.1"/><circle cx="740.2" cy="155.8" r="2.1"/><circle cx="741.3" cy="157.1" r="2.1"/><circle cx="742.4" cy="158.3" r="2.1"/><circle cx="743.5" cy="159.5" r="2.1"/><circle cx="744.6" cy="160.6" r="2.1"/><circle cx="745.7" cy="161.7" r="2.1"/><circle cx="746.8" cy="162.8" r="2.1"/><circle cx="747.9" cy="163.9" r="2.1"/><circle cx="749.0" cy="165.0" r="2.1"/><circle cx="750.1" cy="166.0" r="2.1"/><circle cx="751.2" cy="167.0" r="2.1"/><circle cx="752.3" cy="168.0" r="2.1"/><circle cx="753.5" cy="169.0" r="2.1"/><circle cx="754.6" cy="169.9" r="2.1"/><circle cx="755.7" cy="170.9" r="2.1"/><circle cx="756.8" cy="171.8" r="2.1"/><circle cx="757.9" cy="172.6" r="2.1"/><circle cx="759.0" cy="173.5" r="2.1"/><circle cx="760.1" cy="174.3" r="2.1"/><circle cx="761.2" cy="175.1" r="2.1"/><circle cx="762.3" cy="175.9" r="2.1"/><circle cx="763.4" cy="176.6" r="2.1"/><circle cx="764.5" cy="177.3" r="2.1"/><circle cx="765.6" cy="178.0" r="2.1"/><circle cx="766.7" cy="178.6" r="2.1"/><circle cx="767.8" cy="179.2" r="2.1"/><circle cx="768.9" cy="179.8" r="2.1"/><circle cx="770.0" cy="180.3" r="2.1"/><circle cx="771.2" cy="180.8" r="2.1"/><circle cx="772.3" cy="181.3" r="2.1"/><circle cx="773.4" cy="181.8" r="2.1"/><circle cx="774.5" cy="182.2" r="2.1"/><circle cx="775.6" cy="182.5" r="2.1"/><circle cx="776.7" cy="182.8" r="2.1"/><circle cx="777.8" cy="183.1" r="2.1"/><circle cx="778.9" cy="183.4" r="2.1"/><circle cx="780.0" cy="183.6" r="2.1"/><circle cx="781.1" cy="183.7" r="2.1"/><circle cx="782.2" cy="183.9" r="2.1"/><circle cx="783.3" cy="183.9" r="2.1"/><circle cx="784.4" cy="184.0" r="2.1"/><circle cx="785.5" cy="184.0" r="2.1"/><circle cx="786.6" cy="184.0" r="2.1"/><circle cx="787.7" cy="183.9" r="2.1"/><circle cx="788.9" cy="183.7" r="2.1"/><circle cx="790.0" cy="183.3" r="2.1"/><circle cx="791.1" cy="182.7" r="2.1"/><circle cx="792.2" cy="181.9" r="2.1"/><circle cx="793.3" cy="180.9" r="2.1"/><circle cx="794.4" cy="179.8" r="2.1"/><circle cx="795.5" cy="178.6" r="2.1"/><circle cx="796.6" cy="177.5" r="2.1"/><circle cx="797.7" cy="176.3" r="2.1"/><circle cx="798.8" cy="175.1" r="2.1"/><circle cx="799.9" cy="173.9" r="2.1"/><circle cx="801.0" cy="172.5" r="2.1"/><circle cx="802.1" cy="171.1" r="2.1"/><circle cx="803.2" cy="169.7" r="2.1"/><circle cx="804.3" cy="168.4" r="2.1"/><circle cx="805.4" cy="167.2" r="2.1"/><circle cx="806.6" cy="166.1" r="2.1"/><circle cx="807.7" cy="165.1" r="2.1"/><circle cx="808.8" cy="164.1" r="2.1"/><circle cx="809.9" cy="163.2" r="2.1"/><circle cx="811.0" cy="162.3" r="2.1"/><circle cx="812.1" cy="161.4" r="2.1"/><circle cx="813.2" cy="160.5" r="2.1"/><circle cx="814.3" cy="159.7" r="2.1"/><circle cx="815.4" cy="158.8" r="2.1"/><circle cx="816.5" cy="157.8" r="2.1"/><circle cx="817.6" cy="156.9" r="2.1"/><circle cx="818.7" cy="155.9" r="2.1"/><circle cx="819.8" cy="154.9" r="2.1"/><circle cx="820.9" cy="153.9" r="2.1"/><circle cx="822.0" cy="152.9" r="2.1"/><circle cx="823.2" cy="151.9" r="2.1"/><circle cx="824.3" cy="150.9" r="2.1"/><circle cx="825.4" cy="149.9" r="2.1"/><circle cx="826.5" cy="148.9" r="2.1"/><circle cx="827.6" cy="148.0" r="2.1"/><circle cx="828.7" cy="147.0" r="2.1"/><circle cx="829.8" cy="146.0" r="2.1"/><circle cx="830.9" cy="145.1" r="2.1"/><circle cx="832.0" cy="144.1" r="2.1"/><circle cx="833.1" cy="143.2" r="2.1"/><circle cx="834.2" cy="142.3" r="2.1"/><circle cx="835.3" cy="141.3" r="2.1"/><circle cx="836.4" cy="140.5" r="2.1"/><circle cx="837.5" cy="139.6" r="2.1"/><circle cx="838.6" cy="138.7" r="2.1"/><circle cx="839.7" cy="137.9" r="2.1"/><circle cx="840.9" cy="137.1" r="2.1"/><circle cx="842.0" cy="136.3" r="2.1"/><circle cx="843.1" cy="135.5" r="2.1"/><circle cx="844.2" cy="134.7" r="2.1"/><circle cx="845.3" cy="134.0" r="2.1"/><circle cx="846.4" cy="133.2" r="2.1"/><circle cx="847.5" cy="132.5" r="2.1"/><circle cx="848.6" cy="131.8" r="2.1"/><circle cx="849.7" cy="131.1" r="2.1"/><circle cx="850.8" cy="130.4" r="2.1"/><circle cx="851.9" cy="129.7" r="2.1"/><circle cx="853.0" cy="129.1" r="2.1"/><circle cx="854.1" cy="128.4" r="2.1"/><circle cx="855.2" cy="127.8" r="2.1"/><circle cx="856.3" cy="127.1" r="2.1"/><circle cx="857.4" cy="126.5" r="2.1"/><circle cx="858.6" cy="125.9" r="2.1"/><circle cx="859.7" cy="125.3" r="2.1"/><circle cx="860.8" cy="124.7" r="2.1"/><circle cx="861.9" cy="124.1" r="2.1"/><circle cx="863.0" cy="123.6" r="2.1"/><circle cx="864.1" cy="123.0" r="2.1"/><circle cx="865.2" cy="122.4" r="2.1"/><circle cx="866.3" cy="121.9" r="2.1"/><circle cx="867.4" cy="121.3" r="2.1"/><circle cx="868.5" cy="120.8" r="2.1"/><circle cx="869.6" cy="120.2" r="2.1"/><circle cx="870.7" cy="119.7" r="2.1"/><circle cx="871.8" cy="119.1" r="2.1"/><circle cx="872.9" cy="118.6" r="2.1"/><circle cx="874.0" cy="118.1" r="2.1"/><circle cx="875.1" cy="117.5" r="2.1"/><circle cx="876.3" cy="117.0" r="2.1"/><circle cx="877.4" cy="116.5" r="2.1"/><circle cx="878.5" cy="116.0" r="2.1"/><circle cx="879.6" cy="115.6" r="2.1"/><circle cx="880.7" cy="115.1" r="2.1"/><circle cx="881.8" cy="114.6" r="2.1"/><circle cx="882.9" cy="114.2" r="2.1"/><circle cx="884.0" cy="113.8" r="2.1"/><circle cx="885.1" cy="113.3" r="2.1"/><circle cx="886.2" cy="112.9" r="2.1"/><circle cx="887.3" cy="112.5" r="2.1"/><circle cx="888.4" cy="112.2" r="2.1"/><circle cx="889.5" cy="111.8" r="2.1"/><circle cx="890.6" cy="111.5" r="2.1"/><circle cx="891.7" cy="111.1" r="2.1"/><circle cx="892.8" cy="110.8" r="2.1"/><circle cx="894.0" cy="110.6" r="2.1"/><circle cx="895.1" cy="110.3" r="2.1"/><circle cx="896.2" cy="110.0" r="2.1"/><circle cx="897.3" cy="109.8" r="2.1"/><circle cx="898.4" cy="109.6" r="2.1"/><circle cx="899.5" cy="109.4" r="2.1"/><circle cx="900.6" cy="109.3" r="2.1"/><circle cx="901.7" cy="109.1" r="2.1"/></g>
<g fill="#C00000"><circle cx="569.8" cy="202.6" r="2.05"/><circle cx="570.9" cy="202.3" r="2.05"/><circle cx="572.0" cy="202.0" r="2.05"/><circle cx="573.1" cy="201.6" r="2.05"/><circle cx="574.2" cy="201.2" r="2.05"/><circle cx="575.3" cy="200.8" r="2.05"/><circle cx="576.4" cy="200.4" r="2.05"/><circle cx="577.5" cy="199.9" r="2.05"/><circle cx="578.7" cy="199.5" r="2.05"/><circle cx="579.8" cy="199.0" r="2.05"/><circle cx="580.9" cy="198.5" r="2.05"/><circle cx="582.0" cy="197.9" r="2.05"/><circle cx="583.1" cy="197.4" r="2.05"/><circle cx="584.2" cy="196.9" r="2.05"/><circle cx="585.3" cy="196.3" r="2.05"/><circle cx="586.4" cy="195.7" r="2.05"/><circle cx="587.5" cy="195.1" r="2.05"/><circle cx="588.6" cy="194.6" r="2.05"/><circle cx="589.7" cy="194.0" r="2.05"/><circle cx="590.8" cy="193.4" r="2.05"/><circle cx="591.9" cy="192.8" r="2.05"/><circle cx="593.0" cy="192.2" r="2.05"/><circle cx="594.1" cy="191.6" r="2.05"/><circle cx="595.2" cy="191.0" r="2.05"/><circle cx="596.4" cy="190.4" r="2.05"/><circle cx="597.5" cy="189.8" r="2.05"/><circle cx="598.6" cy="189.2" r="2.05"/><circle cx="599.7" cy="188.6" r="2.05"/><circle cx="600.8" cy="188.0" r="2.05"/><circle cx="601.9" cy="187.4" r="2.05"/><circle cx="603.0" cy="186.8" r="2.05"/><circle cx="604.1" cy="186.3" r="2.05"/><circle cx="605.2" cy="185.7" r="2.05"/><circle cx="606.3" cy="185.1" r="2.05"/><circle cx="607.4" cy="184.5" r="2.05"/><circle cx="608.5" cy="183.9" r="2.05"/><circle cx="609.6" cy="183.3" r="2.05"/><circle cx="610.7" cy="182.6" r="2.05"/><circle cx="611.8" cy="182.0" r="2.05"/><circle cx="612.9" cy="181.3" r="2.05"/><circle cx="614.1" cy="180.7" r="2.05"/><circle cx="615.2" cy="180.0" r="2.05"/><circle cx="616.3" cy="179.3" r="2.05"/><circle cx="617.4" cy="178.6" r="2.05"/><circle cx="618.5" cy="177.8" r="2.05"/><circle cx="619.6" cy="177.1" r="2.05"/><circle cx="620.7" cy="176.3" r="2.05"/><circle cx="621.8" cy="175.5" r="2.05"/><circle cx="622.9" cy="174.6" r="2.05"/><circle cx="624.0" cy="173.7" r="2.05"/><circle cx="625.1" cy="172.8" r="2.05"/><circle cx="626.2" cy="171.9" r="2.05"/><circle cx="627.3" cy="170.9" r="2.05"/><circle cx="628.4" cy="169.9" r="2.05"/><circle cx="629.5" cy="168.9" r="2.05"/><circle cx="630.6" cy="167.8" r="2.05"/><circle cx="631.8" cy="166.7" r="2.05"/><circle cx="632.9" cy="165.6" r="2.05"/><circle cx="634.0" cy="164.4" r="2.05"/><circle cx="635.1" cy="163.3" r="2.05"/><circle cx="636.2" cy="162.1" r="2.05"/><circle cx="637.3" cy="161.0" r="2.05"/><circle cx="638.4" cy="159.8" r="2.05"/><circle cx="639.5" cy="158.7" r="2.05"/><circle cx="640.6" cy="157.5" r="2.05"/><circle cx="641.7" cy="156.4" r="2.05"/><circle cx="642.8" cy="155.4" r="2.05"/><circle cx="643.9" cy="154.3" r="2.05"/><circle cx="645.0" cy="153.3" r="2.05"/><circle cx="646.1" cy="152.4" r="2.05"/><circle cx="647.2" cy="151.5" r="2.05"/><circle cx="648.3" cy="150.6" r="2.05"/><circle cx="649.5" cy="149.8" r="2.05"/><circle cx="650.6" cy="149.0" r="2.05"/><circle cx="651.7" cy="148.2" r="2.05"/><circle cx="652.8" cy="147.4" r="2.05"/><circle cx="653.9" cy="146.7" r="2.05"/><circle cx="655.0" cy="145.9" r="2.05"/><circle cx="656.1" cy="145.2" r="2.05"/><circle cx="657.2" cy="144.4" r="2.05"/><circle cx="658.3" cy="143.6" r="2.05"/><circle cx="659.4" cy="142.8" r="2.05"/><circle cx="660.5" cy="142.0" r="2.05"/><circle cx="661.6" cy="141.2" r="2.05"/><circle cx="662.7" cy="140.3" r="2.05"/><circle cx="663.8" cy="139.4" r="2.05"/><circle cx="664.9" cy="138.5" r="2.05"/><circle cx="666.1" cy="137.5" r="2.05"/><circle cx="667.2" cy="136.5" r="2.05"/><circle cx="668.3" cy="135.4" r="2.05"/><circle cx="669.4" cy="134.4" r="2.05"/><circle cx="670.5" cy="133.5" r="2.05"/><circle cx="671.6" cy="132.6" r="2.05"/><circle cx="672.7" cy="131.8" r="2.05"/><circle cx="673.8" cy="131.1" r="2.05"/><circle cx="674.9" cy="130.3" r="2.05"/><circle cx="676.0" cy="129.6" r="2.05"/><circle cx="677.1" cy="128.8" r="2.05"/><circle cx="678.2" cy="127.9" r="2.05"/><circle cx="679.3" cy="126.9" r="2.05"/><circle cx="680.4" cy="125.8" r="2.05"/><circle cx="681.5" cy="124.6" r="2.05"/><circle cx="682.6" cy="123.3" r="2.05"/><circle cx="683.8" cy="122.0" r="2.05"/><circle cx="684.9" cy="120.6" r="2.05"/><circle cx="686.0" cy="119.2" r="2.05"/><circle cx="687.1" cy="117.7" r="2.05"/><circle cx="688.2" cy="116.1" r="2.05"/><circle cx="689.3" cy="114.6" r="2.05"/><circle cx="690.4" cy="113.0" r="2.05"/><circle cx="691.5" cy="111.3" r="2.05"/><circle cx="692.6" cy="109.7" r="2.05"/><circle cx="693.7" cy="108.0" r="2.05"/><circle cx="694.8" cy="106.3" r="2.05"/><circle cx="695.9" cy="104.6" r="2.05"/><circle cx="697.0" cy="102.9" r="2.05"/><circle cx="698.1" cy="101.2" r="2.05"/><circle cx="699.2" cy="99.6" r="2.05"/><circle cx="700.3" cy="98.0" r="2.05"/><circle cx="701.5" cy="96.4" r="2.05"/><circle cx="702.6" cy="95.0" r="2.05"/><circle cx="703.7" cy="93.7" r="2.05"/><circle cx="704.8" cy="92.6" r="2.05"/><circle cx="705.9" cy="91.6" r="2.05"/><circle cx="707.0" cy="90.7" r="2.05"/><circle cx="708.1" cy="89.9" r="2.05"/><circle cx="709.2" cy="89.3" r="2.05"/><circle cx="710.3" cy="88.7" r="2.05"/><circle cx="711.4" cy="88.1" r="2.05"/><circle cx="712.5" cy="87.7" r="2.05"/><circle cx="713.6" cy="87.2" r="2.05"/><circle cx="714.7" cy="86.7" r="2.05"/><circle cx="715.8" cy="86.3" r="2.05"/><circle cx="716.9" cy="85.8" r="2.05"/><circle cx="718.0" cy="85.3" r="2.05"/><circle cx="719.2" cy="84.7" r="2.05"/><circle cx="720.3" cy="84.1" r="2.05"/><circle cx="721.4" cy="83.5" r="2.05"/><circle cx="722.5" cy="82.9" r="2.05"/><circle cx="723.6" cy="82.2" r="2.05"/><circle cx="724.7" cy="81.4" r="2.05"/><circle cx="725.8" cy="80.6" r="2.05"/><circle cx="726.9" cy="79.8" r="2.05"/><circle cx="728.0" cy="78.9" r="2.05"/><circle cx="729.1" cy="78.0" r="2.05"/><circle cx="730.2" cy="77.0" r="2.05"/><circle cx="731.3" cy="76.0" r="2.05"/><circle cx="732.4" cy="75.0" r="2.05"/><circle cx="733.5" cy="73.9" r="2.05"/><circle cx="734.6" cy="73.0" r="2.05"/><circle cx="735.8" cy="72.2" r="2.05"/><circle cx="736.9" cy="71.5" r="2.05"/><circle cx="738.0" cy="71.0" r="2.05"/><circle cx="739.1" cy="70.7" r="2.05"/><circle cx="740.2" cy="70.6" r="2.05"/><circle cx="741.3" cy="70.8" r="2.05"/><circle cx="742.4" cy="71.1" r="2.05"/><circle cx="743.5" cy="71.7" r="2.05"/><circle cx="744.6" cy="72.6" r="2.05"/><circle cx="745.7" cy="73.7" r="2.05"/><circle cx="746.8" cy="75.0" r="2.05"/><circle cx="747.9" cy="76.6" r="2.05"/><circle cx="749.0" cy="78.3" r="2.05"/><circle cx="750.1" cy="80.3" r="2.05"/><circle cx="751.2" cy="82.5" r="2.05"/><circle cx="752.3" cy="84.8" r="2.05"/><circle cx="753.5" cy="87.4" r="2.05"/><circle cx="754.6" cy="90.0" r="2.05"/><circle cx="755.7" cy="92.8" r="2.05"/><circle cx="756.8" cy="95.5" r="2.05"/><circle cx="757.9" cy="98.3" r="2.05"/><circle cx="759.0" cy="101.2" r="2.05"/><circle cx="760.1" cy="104.1" r="2.05"/><circle cx="761.2" cy="107.1" r="2.05"/><circle cx="762.3" cy="110.2" r="2.05"/><circle cx="763.4" cy="113.6" r="2.05"/><circle cx="764.5" cy="117.2" r="2.05"/><circle cx="765.6" cy="121.1" r="2.05"/><circle cx="766.7" cy="125.4" r="2.05"/><circle cx="767.8" cy="129.8" r="2.05"/><circle cx="768.9" cy="134.5" r="2.05"/><circle cx="770.0" cy="139.3" r="2.05"/><circle cx="771.2" cy="144.2" r="2.05"/><circle cx="772.3" cy="149.2" r="2.05"/><circle cx="773.4" cy="154.3" r="2.05"/><circle cx="774.5" cy="159.3" r="2.05"/><circle cx="775.6" cy="164.4" r="2.05"/><circle cx="776.7" cy="169.4" r="2.05"/><circle cx="777.8" cy="174.3" r="2.05"/><circle cx="778.9" cy="179.1" r="2.05"/><circle cx="780.0" cy="183.8" r="2.05"/><circle cx="781.1" cy="188.4" r="2.05"/><circle cx="782.2" cy="193.0" r="2.05"/><circle cx="783.3" cy="197.4" r="2.05"/><circle cx="784.4" cy="201.8" r="2.05"/><circle cx="785.5" cy="206.1" r="2.05"/><circle cx="786.6" cy="210.4" r="2.05"/><circle cx="787.7" cy="214.5" r="2.05"/><circle cx="788.9" cy="218.5" r="2.05"/><circle cx="790.0" cy="222.4" r="2.05"/><circle cx="791.1" cy="226.2" r="2.05"/><circle cx="792.2" cy="229.8" r="2.05"/><circle cx="793.3" cy="233.3" r="2.05"/><circle cx="794.4" cy="236.7" r="2.05"/><circle cx="795.5" cy="239.8" r="2.05"/><circle cx="796.6" cy="242.8" r="2.05"/><circle cx="797.7" cy="245.6" r="2.05"/><circle cx="798.8" cy="248.1" r="2.05"/><circle cx="799.9" cy="250.4" r="2.05"/><circle cx="801.0" cy="252.4" r="2.05"/><circle cx="802.1" cy="254.1" r="2.05"/><circle cx="803.2" cy="255.4" r="2.05"/><circle cx="804.3" cy="256.4" r="2.05"/><circle cx="805.4" cy="257.2" r="2.05"/><circle cx="806.6" cy="257.7" r="2.05"/><circle cx="807.7" cy="258.0" r="2.05"/><circle cx="808.8" cy="258.1" r="2.05"/><circle cx="809.9" cy="258.1" r="2.05"/><circle cx="811.0" cy="258.1" r="2.05"/><circle cx="812.1" cy="258.0" r="2.05"/><circle cx="813.2" cy="257.8" r="2.05"/><circle cx="814.3" cy="257.6" r="2.05"/><circle cx="815.4" cy="257.3" r="2.05"/><circle cx="816.5" cy="256.9" r="2.05"/><circle cx="817.6" cy="256.5" r="2.05"/><circle cx="818.7" cy="256.0" r="2.05"/><circle cx="819.8" cy="255.4" r="2.05"/><circle cx="820.9" cy="254.8" r="2.05"/><circle cx="822.0" cy="254.1" r="2.05"/><circle cx="823.2" cy="253.4" r="2.05"/><circle cx="824.3" cy="252.5" r="2.05"/><circle cx="825.4" cy="251.6" r="2.05"/><circle cx="826.5" cy="250.7" r="2.05"/><circle cx="827.6" cy="249.7" r="2.05"/><circle cx="828.7" cy="248.6" r="2.05"/><circle cx="829.8" cy="247.4" r="2.05"/><circle cx="830.9" cy="246.3" r="2.05"/><circle cx="832.0" cy="245.1" r="2.05"/><circle cx="833.1" cy="243.8" r="2.05"/><circle cx="834.2" cy="242.5" r="2.05"/><circle cx="835.3" cy="241.2" r="2.05"/><circle cx="836.4" cy="239.9" r="2.05"/><circle cx="837.5" cy="238.6" r="2.05"/><circle cx="838.6" cy="237.2" r="2.05"/><circle cx="839.7" cy="235.8" r="2.05"/><circle cx="840.9" cy="234.5" r="2.05"/><circle cx="842.0" cy="233.1" r="2.05"/><circle cx="843.1" cy="231.7" r="2.05"/><circle cx="844.2" cy="230.3" r="2.05"/><circle cx="845.3" cy="229.0" r="2.05"/><circle cx="846.4" cy="227.7" r="2.05"/><circle cx="847.5" cy="226.3" r="2.05"/><circle cx="848.6" cy="225.0" r="2.05"/><circle cx="849.7" cy="223.8" r="2.05"/><circle cx="850.8" cy="222.5" r="2.05"/><circle cx="851.9" cy="221.3" r="2.05"/><circle cx="853.0" cy="220.2" r="2.05"/><circle cx="854.1" cy="219.1" r="2.05"/><circle cx="855.2" cy="218.0" r="2.05"/><circle cx="856.3" cy="217.0" r="2.05"/><circle cx="857.4" cy="216.1" r="2.05"/><circle cx="858.6" cy="215.2" r="2.05"/><circle cx="859.7" cy="214.3" r="2.05"/><circle cx="860.8" cy="213.5" r="2.05"/><circle cx="861.9" cy="212.8" r="2.05"/><circle cx="863.0" cy="212.1" r="2.05"/><circle cx="864.1" cy="211.4" r="2.05"/><circle cx="865.2" cy="210.7" r="2.05"/><circle cx="866.3" cy="210.1" r="2.05"/><circle cx="867.4" cy="209.5" r="2.05"/><circle cx="868.5" cy="208.9" r="2.05"/><circle cx="869.6" cy="208.3" r="2.05"/><circle cx="870.7" cy="207.8" r="2.05"/><circle cx="871.8" cy="207.2" r="2.05"/><circle cx="872.9" cy="206.6" r="2.05"/><circle cx="874.0" cy="206.0" r="2.05"/><circle cx="875.1" cy="205.4" r="2.05"/><circle cx="876.3" cy="204.8" r="2.05"/><circle cx="877.4" cy="204.2" r="2.05"/><circle cx="878.5" cy="203.6" r="2.05"/><circle cx="879.6" cy="203.0" r="2.05"/><circle cx="880.7" cy="202.4" r="2.05"/><circle cx="881.8" cy="201.7" r="2.05"/><circle cx="882.9" cy="201.1" r="2.05"/><circle cx="884.0" cy="200.5" r="2.05"/><circle cx="885.1" cy="199.9" r="2.05"/><circle cx="886.2" cy="199.2" r="2.05"/><circle cx="887.3" cy="198.6" r="2.05"/><circle cx="888.4" cy="198.0" r="2.05"/><circle cx="889.5" cy="197.3" r="2.05"/><circle cx="890.6" cy="196.7" r="2.05"/><circle cx="891.7" cy="196.0" r="2.05"/><circle cx="892.8" cy="195.4" r="2.05"/><circle cx="894.0" cy="194.8" r="2.05"/><circle cx="895.1" cy="194.2" r="2.05"/><circle cx="896.2" cy="193.7" r="2.05"/><circle cx="897.3" cy="193.2" r="2.05"/><circle cx="898.4" cy="192.8" r="2.05"/><circle cx="899.5" cy="192.5" r="2.05"/><circle cx="900.6" cy="192.3" r="2.05"/><circle cx="901.7" cy="192.2" r="2.05"/></g>
<path d="M66.9 34.5H111.0" stroke="#000" stroke-width="1.1"/><path d="M59.9 34.5L67.9 30.45L67.9 38.55Z" fill="#000"/><path d="M577.9 49.1H617.7" stroke="#000" stroke-width="1.1"/><path d="M571.4 49.1L578.9 45.300000000000004L578.9 52.9Z" fill="#000"/><path d="M287.3 247.9H368.3" stroke="#C00000" stroke-width="1.4"/><path d="M375.3 247.9L367.3 243.9L367.3 251.9Z" fill="#C00000"/><path d="M850.3 279.2H890.2" stroke="#C00000" stroke-width="1.3"/><path d="M897.6 279.2L889.2 275.0L889.2 283.4Z" fill="#C00000"/>
<text x="31.8" y="21.0" font-size="21.3" text-anchor="end" textLength="27.6" lengthAdjust="spacingAndGlyphs">1.3</text>
<text x="31.8" y="121.0" font-size="21.3" text-anchor="end" textLength="27.6" lengthAdjust="spacingAndGlyphs">1.2</text>
<text x="31.8" y="221.0" font-size="21.3" text-anchor="end" textLength="27.6" lengthAdjust="spacingAndGlyphs">1.1</text>
<text x="33.0" y="320.4" font-size="21.0" text-anchor="end" >1</text>
<text x="405.5" y="21.0" font-size="21.0" text-anchor="start" textLength="68.0" lengthAdjust="spacingAndGlyphs">2.0E-04</text>
<text x="405.5" y="96.0" font-size="21.0" text-anchor="start" textLength="68.0" lengthAdjust="spacingAndGlyphs">1.0E-04</text>
<text x="405.5" y="171.0" font-size="21.0" text-anchor="start" textLength="73.05" lengthAdjust="spacingAndGlyphs">0.0E+00</text>
<text x="405.5" y="246.0" font-size="21.0" text-anchor="start" textLength="74.35" lengthAdjust="spacingAndGlyphs">-1.0E-04</text>
<text x="405.5" y="321.0" font-size="21.0" text-anchor="start" textLength="74.35" lengthAdjust="spacingAndGlyphs">-2.0E-04</text>
<text x="53.3" y="349" font-size="20.8" text-anchor="middle" textLength="22.4" lengthAdjust="spacingAndGlyphs">30</text>
<text x="163.9" y="349" font-size="20.8" text-anchor="middle" textLength="22.4" lengthAdjust="spacingAndGlyphs">40</text>
<text x="274.6" y="349" font-size="20.8" text-anchor="middle" textLength="22.4" lengthAdjust="spacingAndGlyphs">50</text>
<text x="385.2" y="349" font-size="20.8" text-anchor="middle" textLength="22.4" lengthAdjust="spacingAndGlyphs">60</text>
<text x="221.0" y="379" font-size="25" text-anchor="middle" textLength="268.0" lengthAdjust="spacingAndGlyphs">angle of incidence (deg)</text>
<text x="548.3" y="21.0" font-size="21.3" text-anchor="end" textLength="27.6" lengthAdjust="spacingAndGlyphs">1.3</text>
<text x="548.3" y="121.0" font-size="21.3" text-anchor="end" textLength="27.6" lengthAdjust="spacingAndGlyphs">1.2</text>
<text x="548.3" y="221.0" font-size="21.3" text-anchor="end" textLength="27.6" lengthAdjust="spacingAndGlyphs">1.1</text>
<text x="549.5" y="320.4" font-size="21.0" text-anchor="end" >1</text>
<text x="922.0" y="21.0" font-size="21.0" text-anchor="start" textLength="68.0" lengthAdjust="spacingAndGlyphs">2.0E-04</text>
<text x="922.0" y="96.0" font-size="21.0" text-anchor="start" textLength="68.0" lengthAdjust="spacingAndGlyphs">1.0E-04</text>
<text x="922.0" y="171.0" font-size="21.0" text-anchor="start" textLength="73.05" lengthAdjust="spacingAndGlyphs">0.0E+00</text>
<text x="922.0" y="246.0" font-size="21.0" text-anchor="start" textLength="74.35" lengthAdjust="spacingAndGlyphs">-1.0E-04</text>
<text x="922.0" y="321.0" font-size="21.0" text-anchor="start" textLength="74.35" lengthAdjust="spacingAndGlyphs">-2.0E-04</text>
<text x="569.8" y="349" font-size="20.8" text-anchor="middle" textLength="22.4" lengthAdjust="spacingAndGlyphs">30</text>
<text x="680.4" y="349" font-size="20.8" text-anchor="middle" textLength="22.4" lengthAdjust="spacingAndGlyphs">40</text>
<text x="791.1" y="349" font-size="20.8" text-anchor="middle" textLength="22.4" lengthAdjust="spacingAndGlyphs">50</text>
<text x="901.7" y="349" font-size="20.8" text-anchor="middle" textLength="22.4" lengthAdjust="spacingAndGlyphs">60</text>
<text x="740.3" y="379" font-size="25" text-anchor="middle" textLength="268.0" lengthAdjust="spacingAndGlyphs">angle of incidence (deg)</text>
<text x="64.6" y="297.4" font-size="29.5" textLength="181.5" lengthAdjust="spacingAndGlyphs"><tspan font-style="italic">s</tspan>-polarization</text>
<text x="580.8" y="297.4" font-size="29.5" textLength="185.2" lengthAdjust="spacingAndGlyphs"><tspan font-style="italic">p</tspan>-polarization</text>
<text x="137.0" y="43.6" font-size="25.2" class="sf" font-style="italic">R<tspan font-size="16.5" dy="6.5">s</tspan></text>
<text x="626.0" y="57.3" font-size="25.2" class="sf" font-style="italic">R<tspan font-size="16.5" dy="5.7">p</tspan></text>
<text x="242.0" y="254.8" font-size="24" class="sf" fill="#C00000"><tspan font-size="24.5">&#916;</tspan><tspan font-style="italic" dx="-0.5">R</tspan><tspan font-style="italic" font-size="16.5" dx="0.6" dy="6.4">s</tspan></text>
<text x="798.8" y="288.2" font-size="24" class="sf" fill="#C00000"><tspan font-size="24.5">&#916;</tspan><tspan font-style="italic" dx="-0.5">R</tspan><tspan font-style="italic" font-size="16.5" dx="0.6" dy="5.5">p</tspan></text>
</svg>
</body></html>
